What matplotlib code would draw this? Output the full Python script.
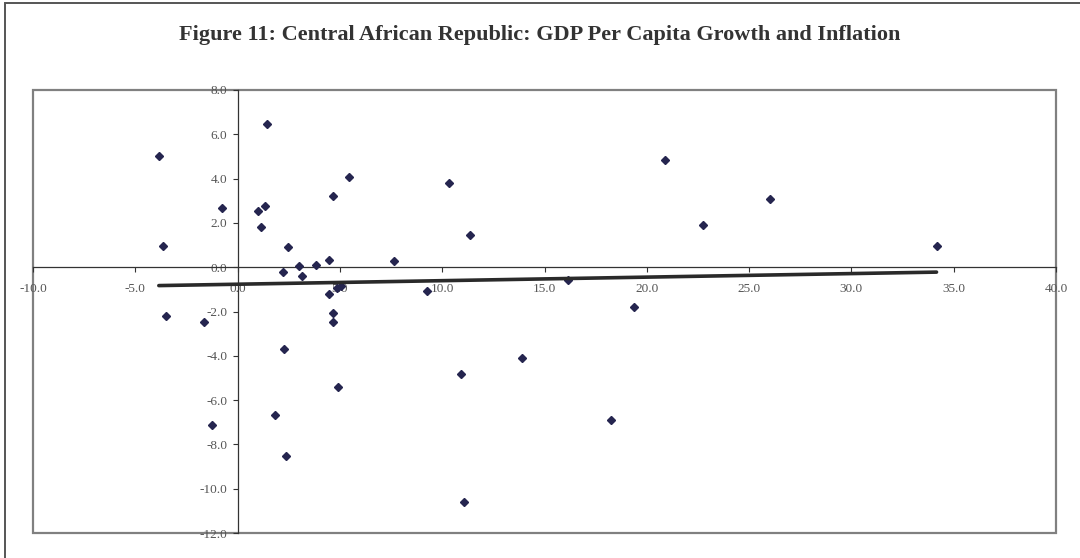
import matplotlib
matplotlib.use("Agg")
import matplotlib.pyplot as plt
import numpy as np
from matplotlib.patches import Rectangle

# inflation (x) vs GDP per capita growth (y)
inflation = [-3.85, -3.64, -0.77, 1.43, 0.98, 1.36, 1.15, 5.44, 4.67, 2.44,
             4.49, 3.85, 3.00, 2.23, 3.15, 7.62, 4.49, 4.88, 5.03, 9.27,
             4.67, 4.67, -3.49, -1.64, 2.28, 4.90, 1.85, -1.26, 2.39, 10.31,
             11.37, 20.90, 26.00, 22.75, 34.16, 16.17, 19.36, 13.89, 10.91, 18.27,
             11.07]
growth = [5.00, 0.97, 2.69, 6.48, 2.55, 2.75, 1.80, 4.09, 3.20, 0.92,
          0.31, 0.12, 0.07, -0.23, -0.38, 0.28, -1.22, -0.92, -0.87, -1.09,
          -2.06, -2.47, -2.21, -2.47, -3.70, -5.40, -6.69, -7.14, -8.53, 3.81,
          1.47, 4.84, 3.06, 1.92, 0.97, -0.57, -1.80, -4.12, -4.83, -6.90,
          -10.62]

x_ticks = [-10, -5, 0, 5, 10, 15, 20, 25, 30, 35, 40]
y_ticks = [-12, -10, -8, -6, -4, -2, 0, 2, 4, 6, 8]

title = "Figure 11: Central African Republic: GDP Per Capita Growth and Inflation"

fig = plt.figure(figsize=(10.8, 5.58), dpi=100)
ax = fig.add_axes([33 / 1080, 1 - 533 / 558, (1056 - 33) / 1080, (533 - 90) / 558])

x = np.array(inflation)
y = np.array(growth)
ax.plot(x, y, linestyle="none", marker="D", markersize=4.0,
        color="#25254f", zorder=3)

# linear trendline like Excel
slope, intercept = np.polyfit(x, y, 1)
xs = np.array([x.min(), x.max()])
ax.plot(xs, slope * xs + intercept, color="#2a2a2a", linewidth=2.6, zorder=4,
        solid_capstyle="round")

ax.set_xlim(-10, 40)
ax.set_ylim(-12, 8)
ax.set_xticks(x_ticks)
ax.set_yticks(y_ticks)
ax.set_xticklabels([f"{v:.1f}" for v in x_ticks])
ax.set_yticklabels([f"{v:.1f}" for v in y_ticks])

for side in ["top", "right"]:
    ax.spines[side].set_visible(False)
ax.spines["left"].set_position(("data", 0))
ax.spines["bottom"].set_position(("data", 0))
for side in ["left", "bottom"]:
    ax.spines[side].set_color("#333333")
    ax.spines[side].set_linewidth(0.9)

ax.tick_params(direction="out", length=3.5, width=0.8, color="#333333",
               labelcolor="#555555", labelsize=9.5)
ax.tick_params(axis="x", pad=8)
ax.tick_params(axis="y", pad=4)
for lab in ax.get_xticklabels() + ax.get_yticklabels():
    lab.set_fontfamily("Liberation Serif")

# plot area box
ax.add_patch(Rectangle((0, 0), 1, 1, transform=ax.transAxes, fill=False,
                       edgecolor="#808080", linewidth=1.6, clip_on=False, zorder=1))

# outer chart border (only left and top visible in the picture)
fig.patches.append(Rectangle((4.5 / 1080, -0.05), 1.2, 1.05 - 3.5 / 558,
                             transform=fig.transFigure, fill=False,
                             edgecolor="#555555", linewidth=1.4))

fig.text(0.5, 1 - 35 / 558, title, ha="center", va="center",
         fontsize=16, fontweight="bold", fontfamily="Liberation Serif",
         color="#333333")

plt.savefig("out.png", dpi=100)
plt.close()
